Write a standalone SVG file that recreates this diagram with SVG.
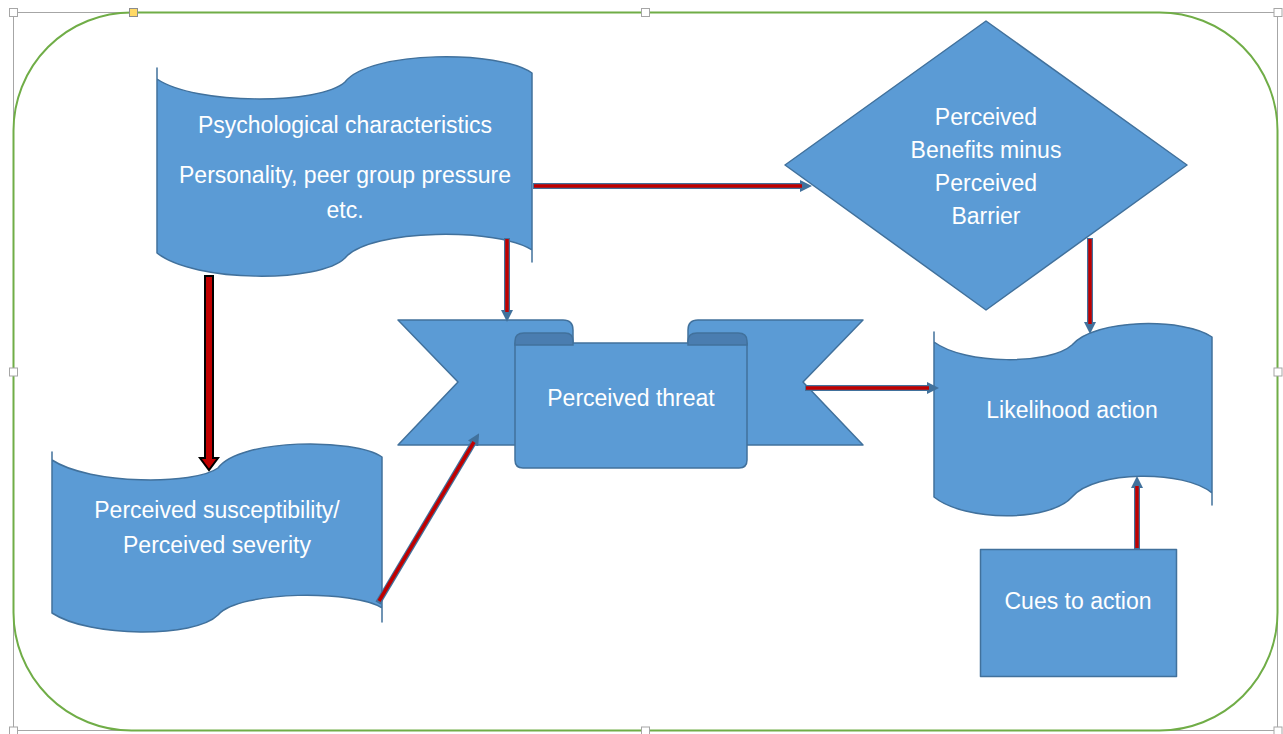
<svg xmlns="http://www.w3.org/2000/svg" width="1283" height="734" viewBox="0 0 1283 734">
<style>
.shape{fill:#5B9BD5;stroke:#41719C;stroke-width:1.5;stroke-linejoin:round}
.curl{fill:#4A7DB0;stroke:#41719C;stroke-width:1.5}
.t{font-family:"Liberation Sans",Arial,sans-serif;font-size:23px;fill:#FFFFFF;text-anchor:middle}
.o{stroke:#41719C;stroke-width:6;fill:none}
.i{stroke:#C00000;stroke-width:3.5;fill:none}
.h{fill:#FFFFFF;stroke:#A6A6A6;stroke-width:1}
</style>
<defs>
<marker id="ah" markerUnits="userSpaceOnUse" markerWidth="12" markerHeight="12" refX="0" refY="5" orient="auto" viewBox="0 0 10 10">
<path d="M0,0 L10,5 L0,10 Z" fill="#41719C"/>
</marker>
</defs>

<g id="frame">
<rect x="13.5" y="12.5" width="1264" height="718" fill="none" stroke="#A6A6A6" stroke-width="1"/>
<rect x="13.5" y="12.5" width="1264" height="718" rx="118" ry="118" fill="#FFFFFF" stroke="#70AD47" stroke-width="2"/>
<rect class="h" x="9.5" y="8.5" width="8" height="8"/>
<rect class="h" x="641.5" y="8.5" width="8" height="8"/>
<rect class="h" x="1274" y="8.5" width="8" height="8"/>
<rect class="h" x="9.5" y="368" width="8" height="8"/>
<rect class="h" x="1274" y="368" width="8" height="8"/>
<rect class="h" x="9.5" y="727" width="8" height="8"/>
<rect class="h" x="641.5" y="727" width="8" height="8"/>
<rect class="h" x="1274" y="727" width="8" height="8"/>
<rect x="129.5" y="8.5" width="8" height="8" fill="#FFD966" stroke="#8C8C8C" stroke-width="1"/>
</g>

<g id="psych">
<path class="shape" d="M157,68 L157,79 C195,105 320,105 345,82 C370,50 500,50 532,73 L532,262 L532,250 C500,228 370,228 345,258 C320,283 195,283 157,253 Z"/>
<text class="t" x="345" y="133">Psychological characteristics</text>
<text class="t" x="345" y="183">Personality, peer group pressure</text>
<text class="t" x="345" y="218">etc.</text>
</g>

<g id="susceptibility">
<path class="shape" d="M52,452 L52,460 C90,485 195,485 218,468 C240,438 355,438 382,457 L382,622 L382,608 C355,590 240,590 218,615 C195,638 90,638 52,613 Z"/>
<text class="t" x="217" y="518">Perceived susceptibility/</text>
<text class="t" x="217" y="553">Perceived severity</text>
</g>

<g id="benefits">
<path class="shape" d="M986,21 L1187,165 L986,310 L785,165 Z"/>
<text class="t" x="986" y="125">Perceived</text>
<text class="t" x="986" y="158">Benefits minus</text>
<text class="t" x="986" y="191">Perceived</text>
<text class="t" x="986" y="224">Barrier</text>
</g>

<g id="threat">
<path class="shape" d="M398,320 L563,320 Q573,320 573,330 L573,445 L398,445 L458,382 Z"/>
<path class="shape" d="M863,320 L698,320 Q688,320 688,330 L688,445 L863,445 L803,382 Z"/>
<path class="shape" d="M515,343 L515,460 Q515,468 523,468 L739,468 Q747,468 747,460 L747,343 Z"/>
<path class="curl" d="M515,345 L515,341 Q515,333 524,333 L565,333 Q573,333 573,341 L573,345 Z"/>
<path class="curl" d="M688,345 L688,341 Q688,333 697,333 L738,333 Q747,333 747,341 L747,345 Z"/>
<text class="t" x="631" y="406">Perceived threat</text>
</g>

<g id="likelihood">
<path class="shape" d="M934,332 L934,342 C965,365 1050,365 1072,345 C1095,318 1185,318 1212,337 L1212,505 L1212,493 C1185,470 1095,470 1072,497 C1050,522 965,522 934,497 Z"/>
<text class="t" x="1072" y="418">Likelihood action</text>
</g>

<g id="cues">
<rect class="shape" x="980.5" y="549.5" width="196" height="127"/>
<text class="t" x="1078" y="609">Cues to action</text>
</g>

<g id="connectors">
<path d="M205,276 L213,276 L213,458 L218,458 L209,470 L200,458 L205,458 Z" fill="#C00000" stroke="#000000" stroke-width="2" stroke-linejoin="miter"/>
<line class="o" x1="507" y1="238" x2="507" y2="310" marker-end="url(#ah)"/>
<line class="i" x1="507" y1="239" x2="507" y2="312"/>
<line class="o" x1="533" y1="186" x2="800" y2="186" marker-end="url(#ah)"/>
<line class="i" x1="534" y1="186" x2="802" y2="186"/>
<line class="o" x1="378" y1="603" x2="473" y2="443.6" marker-end="url(#ah)"/>
<line class="i" x1="379" y1="601" x2="474" y2="442"/>
<line class="o" x1="805" y1="388" x2="927" y2="388" marker-end="url(#ah)"/>
<line class="i" x1="806" y1="388" x2="929" y2="388"/>
<line class="o" x1="1090" y1="238" x2="1090" y2="322" marker-end="url(#ah)"/>
<line class="i" x1="1090" y1="239" x2="1090" y2="324"/>
<line class="o" x1="1137" y1="549" x2="1137" y2="488" marker-end="url(#ah)"/>
<line class="i" x1="1137" y1="548" x2="1137" y2="486"/>
</g>
</svg>
